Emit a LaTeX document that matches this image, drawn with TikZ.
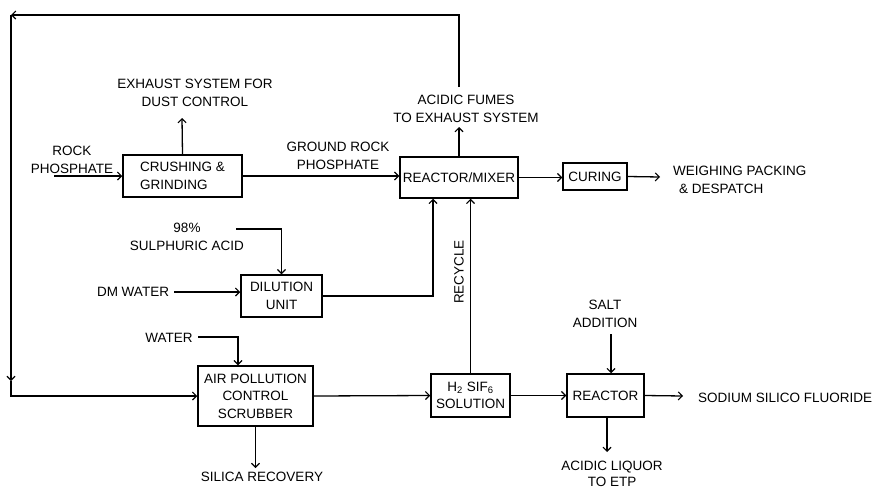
\documentclass[tikz,border=0pt]{standalone}
\usepackage{fontspec}
\setmainfont{Liberation Sans}
\usetikzlibrary{arrows.meta}
\begin{document}
\begin{tikzpicture}[x=1pt,y=-1pt,
  every node/.style={font=\fontsize{13.5}{17.5}\selectfont, inner sep=1pt},
  box/.style={draw, line width=1.5pt, rectangle, inner sep=0pt, align=center},
  lbl/.style={align=center},
  flow/.style={line width=1.3pt, -{Straight Barb[length=4pt,width=8pt,line width=1.1pt]}},
  line/.style={line width=1.3pt}]
\useasboundingbox (0,0) rectangle (875,490);
% boxes
\node[box, minimum width=119pt, minimum height=42pt, align=left] (crush) at (182.5,176) {CRUSHING \&\\GRINDING};
\node[box, minimum width=118pt, minimum height=41pt] (rm) at (459,177.5) {REACTOR/MIXER};
\node[box, minimum width=64pt, minimum height=27pt] (cur) at (595,176.5) {CURING};
\node[box, minimum width=81pt, minimum height=42pt] (dil) at (281.5,296) {DILUTION\\UNIT};
\node[box, minimum width=115pt, minimum height=60pt] (scrub) at (255.5,396) {AIR POLLUTION\\CONTROL\\SCRUBBER};
\node[box, minimum width=79pt, minimum height=43pt] (h2) at (470.5,395.5) {H\textsubscript{2} SIF\textsubscript{6}\\SOLUTION};
\node[box, minimum width=77pt, minimum height=43pt] (reac) at (605.5,395.5) {REACTOR};
% labels
\node[lbl] (exh) at (195,93) {EXHAUST SYSTEM FOR\\DUST CONTROL};
\node[lbl] (rock) at (72,160) {ROCK\\PHOSPHATE};
\node[lbl] (grp) at (338,156) {GROUND ROCK\\PHOSPHATE};
\node[lbl] (fum) at (466,109) {ACIDIC FUMES\\TO EXHAUST SYSTEM};
\node[anchor=west, align=left] (wpd) at (672,180) {WEIGHING PACKING\\\hspace*{6pt}\& DESPATCH};
\node[lbl] (sulf) at (187,237) {98\%\\SULPHURIC ACID};
\node[lbl] (dm) at (133,292) {DM WATER};
\node[lbl, rotate=90] (rec) at (459,272) {RECYCLE};
\node[lbl] (wat) at (169,338) {WATER};
\node[lbl] (sil) at (262,477) {SILICA RECOVERY};
\node[lbl] (salt) at (605,314) {SALT\\ADDITION};
\node[anchor=west] (snf) at (697,398) {SODIUM SILICO FLUORIDE};
\node[lbl, font=\fontsize{13.5}{16}\selectfont, inner sep=0pt] (acl) at (612,473.5) {ACIDIC LIQUOR\\TO ETP};
% coordinates
\coordinate (exhT) at (182,118);
\coordinate (rockS) at (54,176);
\coordinate (fumT) at (459,127);
\coordinate (fumS) at (459,87);
\coordinate (tl) at (11,15);
\coordinate (lm) at (11,381);
\coordinate (wpdT) at (660,177);
\coordinate (sulS) at (236,229);
\coordinate (dmS) at (174,292);
\coordinate (watS) at (198,337);
\coordinate (silT) at (255.5,468);
\coordinate (saltS) at (611,334);
\coordinate (snfT) at (683,396);
\coordinate (aclT) at (607,452);
% connectors
\draw[flow] (crush.north) -- (exhT);
\draw[flow] (rockS) -- (crush.west);
\draw[flow] (crush.east) -- (crush.east -| rm.west);
\draw[flow] (rm.north) -- (fumT);
\draw[flow] (fumS) |- (tl);
\draw[flow] (tl) -- (lm);
\draw[flow] (lm) |- (scrub.west);
\draw[flow] (rm.east) -- (rm.east -| cur.west);
\draw[flow] (cur.east) -- (wpdT);
\draw[flow] (sulS) -| (dil.north);
\draw[flow] (dmS) -- (dmS -| dil.west);
\draw[flow] (dil.east) -| ([xshift=-26pt]rm.south);
\draw[flow] (h2.north) -- (h2.north |- rm.south);
\draw[flow] (watS) -| ([xshift=-17.5pt]scrub.north);
\draw[flow] (scrub.south) -- (silT);
\draw[flow] (scrub.east) -- (h2.west);
\draw[flow] (h2.east) -- (reac.west);
\draw[flow] (reac.east) -- (snfT);
\draw[flow] (saltS) -- (saltS |- reac.north);
\draw[flow] (reac.south -| aclT) -- (aclT);
\end{tikzpicture}
\end{document}
